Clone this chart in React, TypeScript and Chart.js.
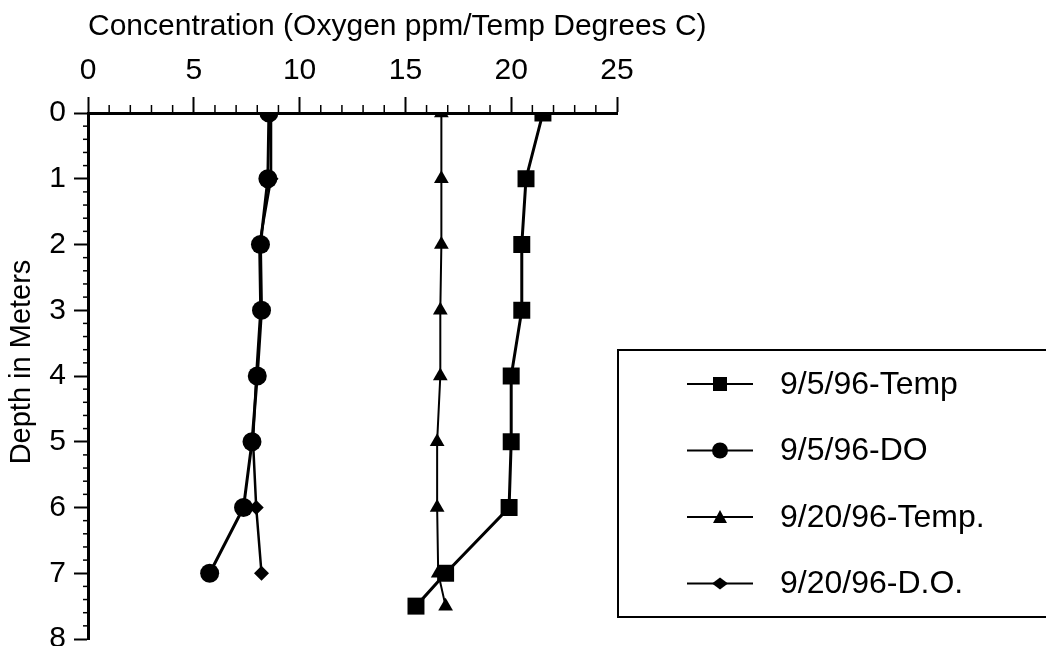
import React, { useEffect, useRef } from 'react';
import { Chart, registerables } from 'chart.js';

Chart.register(...registerables);

// ---- data ----
const depthsTemp = [0, 1, 2, 3, 4, 5, 6, 7, 7.5];
const depthsDO = [0, 1, 2, 3, 4, 5, 6, 7];
const temp0905 = [21.5, 20.7, 20.5, 20.5, 20.0, 20.0, 19.9, 16.9, 15.5];
const do0905 = [8.55, 8.5, 8.15, 8.2, 8.0, 7.75, 7.35, 5.75];
const temp0920 = [16.7, 16.7, 16.7, 16.65, 16.65, 16.5, 16.5, 16.55, 16.9];
const do0920 = [8.65, 8.65, 8.1, 8.15, 7.95, 7.8, 7.95, 8.2];
const seriesLabels = ['9/5/96-Temp', '9/5/96-DO', '9/20/96-Temp.', '9/20/96-D.O.'];
const xTitle = 'Concentration (Oxygen ppm/Temp Degrees C)';
const yTitle = 'Depth in Meters';
const xMin = 0, xMax = 25, xStep = 5;
const yMin = 0, yMax = 8, yStep = 1;

const FONT = '"Liberation Sans", Arial, Helvetica, sans-serif';

const toPoints = (vals: number[], depths: number[]) => vals.map((v, i) => ({ x: v, y: depths[i] }));

const styles = [
  { pointStyle: 'rect', radius: 12, width: 3 },
  { pointStyle: 'circle', radius: 9.5, width: 3 },
  { pointStyle: 'triangle', radius: 8.5, width: 2 },
  { pointStyle: 'rectRot', radius: 7.5, width: 2.5 },
];

function drawMarker(ctx: CanvasRenderingContext2D, kind: string, x: number, y: number) {
  ctx.beginPath();
  if (kind === 'rect') {
    ctx.rect(x - 7, y - 7, 14, 14);
  } else if (kind === 'circle') {
    ctx.arc(x, y, 8, 0, Math.PI * 2);
  } else if (kind === 'triangle') {
    ctx.moveTo(x, y - 7);
    ctx.lineTo(x + 7, y + 6);
    ctx.lineTo(x - 7, y + 6);
    ctx.closePath();
  } else {
    ctx.moveTo(x, y - 6);
    ctx.lineTo(x + 8, y);
    ctx.lineTo(x, y + 6);
    ctx.lineTo(x - 8, y);
    ctx.closePath();
  }
  ctx.fill();
}

const decorPlugin = {
  id: 'decor',
  afterDraw(chart: any) {
    const ctx: CanvasRenderingContext2D = chart.ctx;
    const xs = chart.scales.x;
    const ys = chart.scales.y;
    const ca = chart.chartArea;
    ctx.save();
    ctx.strokeStyle = '#000';
    ctx.fillStyle = '#000';
    // minor ticks
    ctx.lineWidth = 1.5;
    for (let v = xMin; v <= xMax; v += 1) {
      if (v % xStep === 0) continue;
      const px = xs.getPixelForValue(v);
      ctx.beginPath();
      ctx.moveTo(px, ca.top);
      ctx.lineTo(px, ca.top - 8);
      ctx.stroke();
    }
    for (let i = 0; i <= (yMax - yMin) * 5; i++) {
      if (i % 5 === 0) continue;
      const py = ys.getPixelForValue(yMin + i / 5);
      ctx.beginPath();
      ctx.moveTo(ca.left, py);
      ctx.lineTo(ca.left - 5, py);
      ctx.stroke();
    }
    // axis titles
    ctx.font = `30px ${FONT}`;
    ctx.textAlign = 'left';
    ctx.textBaseline = 'middle';
    ctx.fillText(xTitle, 88, 27);
    ctx.save();
    ctx.font = `29px ${FONT}`;
    ctx.translate(22, 362);
    ctx.rotate(-Math.PI / 2);
    ctx.textAlign = 'center';
    ctx.fillText(yTitle, 0, 0);
    ctx.restore();
    // legend
    ctx.lineWidth = 2;
    ctx.strokeRect(618, 350, 440, 267);
    chart.data.datasets.forEach((ds: any, i: number) => {
      const cy = 384 + i * 66.5;
      ctx.lineWidth = 2;
      ctx.beginPath();
      ctx.moveTo(687, cy);
      ctx.lineTo(753, cy);
      ctx.stroke();
      drawMarker(ctx, ds.pointStyle, 720, cy);
      ctx.font = `32px ${FONT}`;
      ctx.textAlign = 'left';
      ctx.textBaseline = 'middle';
      ctx.fillText(ds.label, 780, cy + 1);
    });
    ctx.restore();
  },
};

export default function App() {
  const ref = useRef<HTMLCanvasElement>(null);
  useEffect(() => {
    if (!ref.current) return;
    const seriesData = [
      toPoints(temp0905, depthsTemp),
      toPoints(do0905, depthsDO),
      toPoints(temp0920, depthsTemp),
      toPoints(do0920, depthsDO),
    ];
    const chart = new Chart(ref.current, {
      type: 'scatter',
      data: {
        datasets: seriesData.map((d, i) => ({
          label: seriesLabels[i],
          data: d,
          showLine: true,
          borderColor: '#000',
          backgroundColor: '#000',
          borderWidth: styles[i].width,
          pointStyle: styles[i].pointStyle as any,
          pointRadius: styles[i].radius,
          pointBorderWidth: 0,
          pointBackgroundColor: '#000',
          tension: 0,
        })),
      },
      options: {
        animation: false,
        responsive: false,
        layout: { padding: { left: 0, top: 0, right: 429, bottom: 3 } },
        plugins: { legend: { display: false }, tooltip: { enabled: false }, title: { display: false } },
        scales: {
          x: {
            type: 'linear',
            position: 'top',
            min: xMin,
            max: xMax,
            ticks: { stepSize: xStep, color: '#000', font: { family: FONT, size: 30 }, padding: 8 },
            grid: { drawOnChartArea: false, drawTicks: true, tickLength: 16, tickWidth: 2, tickColor: '#000' },
            border: { display: true, color: '#000', width: 3 },
            afterFit: (s: any) => { s.height = 113; s.paddingLeft = 0; s.paddingRight = 0; },
          },
          y: {
            type: 'linear',
            reverse: true,
            min: yMin,
            max: yMax,
            ticks: { stepSize: yStep, color: '#000', font: { family: FONT, size: 30 }, padding: 8 },
            grid: { drawOnChartArea: false, drawTicks: true, tickLength: 14, tickWidth: 2, tickColor: '#000' },
            border: { display: true, color: '#000', width: 3 },
            afterFit: (s: any) => { s.width = 88; s.paddingTop = 0; s.paddingBottom = 0; },
          },
        },
      },
      plugins: [decorPlugin],
    });
    return () => chart.destroy();
  }, []);
  return (
    <div style={{ position: 'absolute', left: 0, top: 0, width: 1046, height: 646, overflow: 'hidden', background: '#fff' }}>
      <canvas ref={ref} width={1046} height={651} style={{ display: 'block' }} />
    </div>
  );
}
